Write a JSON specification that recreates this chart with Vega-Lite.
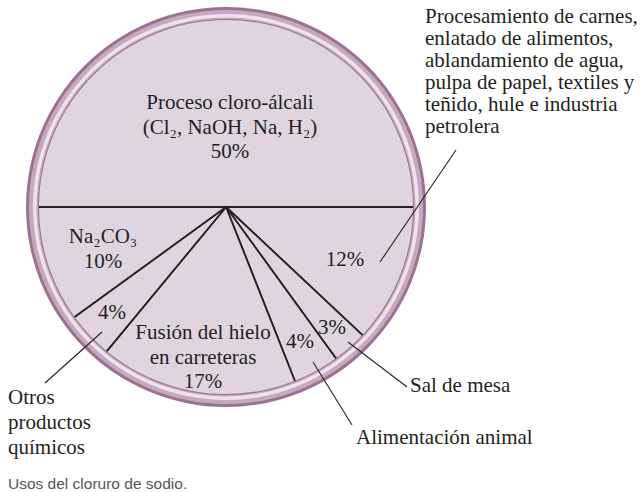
{
  "$schema": "https://vega.github.io/schema/vega-lite/v6.json",
  "width": 452,
  "height": 414,
  "autosize": {"type": "none"},
  "padding": {"left": 0, "top": 0, "right": 190, "bottom": 78},
  "background": "white",
  "config": {"view": {"stroke": null}},
  "datasets": {
    "slices": [
      {"uso": "Proceso cloro-álcali", "pct": 50, "order": 1},
      {"uso": "Otros usos industriales", "pct": 12, "order": 2},
      {"uso": "Sal de mesa", "pct": 3, "order": 3},
      {"uso": "Alimentación animal", "pct": 4, "order": 4},
      {"uso": "Fusión del hielo en carreteras", "pct": 17, "order": 5},
      {"uso": "Otros productos químicos", "pct": 4, "order": 6},
      {"uso": "Na2CO3", "pct": 10, "order": 7}
    ],
    "ring": [{"v": 100}],
    "inner": [
      {"label": "Proceso cloro-álcali\n(Cl₂, NaOH, Na, H₂)\n50%", "x": 2, "y": 52},
      {"label": "Na₂CO₃\n10%", "x": -61.5, "y": -15},
      {"label": "12%", "x": 59.5, "y": -26.5},
      {"label": "4%", "x": -57, "y": -53},
      {"label": "Fusión del hielo\nen carreteras\n17%", "x": -11.5, "y": -63},
      {"label": "4%", "x": 37, "y": -67.5},
      {"label": "3%", "x": 53, "y": -60.5}
    ],
    "outer": [
      {"label": "Otros\nproductos\nquímicos", "x": -109, "y": -95.5},
      {"label": "Sal de mesa", "x": 92, "y": -89.5},
      {"label": "Alimentación animal", "x": 65, "y": -115.5}
    ],
    "block": [
      {"label": "Procesamiento de carnes,\nenlatado de alimentos,\nablandamiento de agua,\npulpa de papel, textiles y\nteñido, hule e industria\npetrolera", "x": 99.5, "y": 95}
    ],
    "caption": [
      {"label": "Usos del cloruro de sodio.", "x": -109, "y": -138.5}
    ],
    "leaders": [
      {"x": 77, "y": -27.5, "x2": 115, "y2": 28.5},
      {"x": -62, "y": -62.5, "x2": -90.5, "y2": -88},
      {"x": 43.5, "y": -77.5, "x2": 63, "y2": -109},
      {"x": 61, "y": -67.5, "x2": 90.5, "y2": -90}
    ]
  },
  "layer": [
    {
      "data": {"name": "slices"},
      "mark": {"type": "arc", "outerRadius": 189, "fill": "#e0d4e0", "stroke": "#262223", "strokeWidth": 1.8},
      "encoding": {
        "theta": {"field": "pct", "type": "quantitative", "stack": true, "scale": {"range": [-1.5708, 4.7124]}},
        "order": {"field": "order", "type": "quantitative"}
      }
    },
    {
      "data": {"name": "ring"},
      "mark": {"type": "arc", "innerRadius": 187, "outerRadius": 200, "fill": "#9a7292"},
      "encoding": {"theta": {"field": "v", "type": "quantitative", "stack": true}}
    },
    {
      "data": {"name": "ring"},
      "mark": {"type": "arc", "innerRadius": 188, "outerRadius": 197, "fill": "#c6a8c1"},
      "encoding": {"theta": {"field": "v", "type": "quantitative", "stack": true}}
    },
    {
      "data": {"name": "ring"},
      "mark": {"type": "arc", "innerRadius": 189.5, "outerRadius": 193, "fill": "#eee2ec"},
      "encoding": {"theta": {"field": "v", "type": "quantitative", "stack": true}}
    },
    {
      "data": {"name": "leaders"},
      "mark": {"type": "rule", "color": "#262223", "strokeWidth": 1.1},
      "encoding": {
        "x": {"field": "x", "type": "quantitative", "scale": {"domain": [-113, 113], "nice": false, "zero": false}, "axis": null},
        "y": {"field": "y", "type": "quantitative", "scale": {"domain": [-103.5, 103.5], "nice": false, "zero": false}, "axis": null},
        "x2": {"field": "x2"},
        "y2": {"field": "y2"}
      }
    },
    {
      "data": {"name": "inner"},
      "mark": {"type": "text", "font": "Liberation Serif", "fontSize": 21, "lineHeight": 24.5, "lineBreak": "\n", "align": "center", "baseline": "middle", "color": "#231f20"},
      "encoding": {
        "x": {"field": "x", "type": "quantitative"},
        "y": {"field": "y", "type": "quantitative"},
        "text": {"field": "label"}
      }
    },
    {
      "data": {"name": "outer"},
      "mark": {"type": "text", "font": "Liberation Serif", "fontSize": 21, "lineHeight": 25, "lineBreak": "\n", "align": "left", "baseline": "middle", "color": "#231f20"},
      "encoding": {
        "x": {"field": "x", "type": "quantitative"},
        "y": {"field": "y", "type": "quantitative"},
        "text": {"field": "label"}
      }
    },
    {
      "data": {"name": "block"},
      "mark": {"type": "text", "font": "Liberation Serif", "fontSize": 21, "lineHeight": 22, "lineBreak": "\n", "align": "left", "baseline": "middle", "color": "#231f20"},
      "encoding": {
        "x": {"field": "x", "type": "quantitative"},
        "y": {"field": "y", "type": "quantitative"},
        "text": {"field": "label"}
      }
    },
    {
      "data": {"name": "caption"},
      "mark": {"type": "text", "font": "Liberation Sans", "fontSize": 15.5, "align": "left", "baseline": "middle", "color": "#555555"},
      "encoding": {
        "x": {"field": "x", "type": "quantitative"},
        "y": {"field": "y", "type": "quantitative"},
        "text": {"field": "label"}
      }
    }
  ]
}
